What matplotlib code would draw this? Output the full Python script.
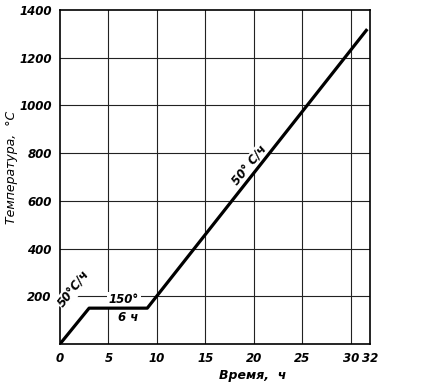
import matplotlib.pyplot as plt

# heating schedule
time_h = [0, 3, 9, 31.7]
temp_c = [0, 150, 150, 1320]

x_ticks = [0, 5, 10, 15, 20, 25, 30, 32]
y_ticks = [200, 400, 600, 800, 1000, 1200, 1400]

plt.rcParams["font.family"] = ["Liberation Sans Narrow", "DejaVu Sans"]

fig = plt.figure(figsize=(4.35, 3.86), dpi=100)
ax = fig.add_axes([0.138, 0.109, 0.713, 0.865])

ax.set_xlim(0, 32)
ax.set_ylim(0, 1400)

for x in [5, 10, 15, 20, 25, 30]:
    ax.axvline(x, color="#222222", lw=0.8, zorder=1)
for y in y_ticks[:-1]:
    ax.axhline(y, color="#222222", lw=0.8, zorder=1)

ax.plot(time_h, temp_c, color="black", lw=2.3, solid_capstyle="butt", zorder=4)

ax.set_xticks(x_ticks)
ax.set_yticks(y_ticks)
ax.tick_params(length=0, labelsize=8.5, pad=6)
for lab in ax.get_xticklabels() + ax.get_yticklabels():
    lab.set_fontstyle("italic")
    lab.set_fontweight("bold")

for s in ax.spines.values():
    s.set_linewidth(1.2)

txt = dict(fontsize=8.5, fontstyle="italic", fontweight="bold", ha="center", va="center")
box = dict(facecolor="white", edgecolor="none", pad=1.0)
ax.text(1.45, 232, "50°C/ч", rotation=52, bbox=box, zorder=3, **txt)
ax.text(6.6, 186, "150°", bbox=box, zorder=3, **txt)
ax.text(7.0, 109, "6 ч", bbox=box, zorder=3, **txt)
ax.text(19.6, 750, "50° C/ч", rotation=51, bbox=box, zorder=3, **txt)

ax.set_xlabel("Время,  ч", fontsize=9, fontstyle="italic", fontweight="bold")
ax.xaxis.set_label_coords(0.62, -0.075)
ax.set_ylabel("Температура,  °C", fontsize=9, fontstyle="italic")
ax.yaxis.set_label_coords(-0.135, 0.53)

fig.savefig("out.png", dpi=100)
